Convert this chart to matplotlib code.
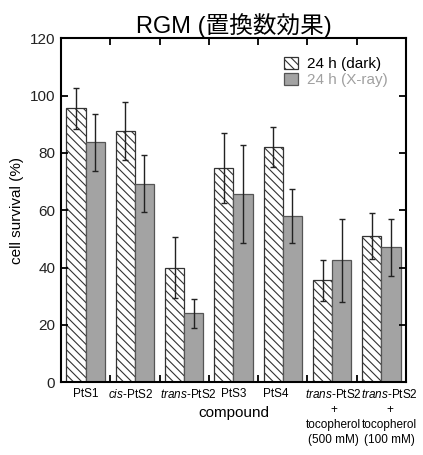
import matplotlib.pyplot as plt
import matplotlib.transforms as mtransforms
import numpy as np

plt.rcParams['font.family'] = ['Liberation Sans', 'Noto Sans CJK JP']
plt.rcParams['mathtext.fontset'] = 'custom'
plt.rcParams['mathtext.rm'] = 'Liberation Sans'
plt.rcParams['mathtext.it'] = 'Liberation Sans:italic'
plt.rcParams['hatch.linewidth'] = 0.8

# data
compounds = ['PtS1', '$\\it{cis}$-PtS2', '$\\it{trans}$-PtS2', 'PtS3', 'PtS4',
             '$\\it{trans}$-PtS2\n+\ntocopherol\n(500 mM)',
             '$\\it{trans}$-PtS2\n+\ntocopherol\n(100 mM)']
dark = [95.5, 87.6, 40.0, 74.6, 82.0, 35.5, 51.0]
dark_err = [7.0, 10.2, 10.5, 12.2, 7.0, 7.2, 8.0]
xray = [83.7, 69.3, 24.0, 65.7, 58.0, 42.5, 47.0]
xray_err = [10.0, 10.0, 5.0, 17.0, 9.5, 14.5, 10.0]

# small sideways nudges of the tick labels (points), as in the original layout
label_shift = [0, -3, 3, 0, -5, 1, 6]

x = np.arange(len(compounds))
w = 0.39

fig = plt.figure(figsize=(4.23, 4.55), dpi=100)
ax = fig.add_axes([0.144, 0.160, 0.816, 0.756])

ax.bar(x - w / 2, dark, w, color='white', edgecolor='#333333', hatch='\\\\\\\\',
       linewidth=0.9, label='24 h (dark)')
ax.bar(x + w / 2, xray, w, color='#a3a3a3', edgecolor='#555555',
       linewidth=0.9, label='24 h (X-ray)')
ax.errorbar(x - w / 2, dark, yerr=dark_err, fmt='none', ecolor='#222222',
            elinewidth=1, capsize=2.5, capthick=1)
ax.errorbar(x + w / 2, xray, yerr=xray_err, fmt='none', ecolor='#222222',
            elinewidth=1, capsize=2.5, capthick=1)

ax.set_xlim(-0.5, len(compounds) - 0.5)
ax.set_ylim(0, 120)
ax.set_yticks(range(0, 121, 20))
ax.tick_params(axis='y', labelsize=11, direction='in', length=5, width=1.3,
               right=True, pad=4, labelcolor='#222222')
ax.set_xticks(x)
ax.set_xticklabels(compounds, fontsize=8.5, linespacing=1.35)
ax.tick_params(axis='x', length=0, pad=4)
ax.set_xticks(np.arange(0.5, len(compounds) - 1, 1), minor=True)
ax.tick_params(axis='x', which='minor', direction='in', length=5, width=1.3,
               top=True)
for lab, dx in zip(ax.get_xticklabels(), label_shift):
    lab.set_transform(lab.get_transform() +
                      mtransforms.ScaledTranslation(dx / 72, 0, fig.dpi_scale_trans))
for s in ax.spines.values():
    s.set_linewidth(1.5)

ax.set_ylabel('cell survival (%)', fontsize=11, labelpad=4)
ax.set_xlabel('compound', fontsize=11)
ax.xaxis.set_label_coords(0.5, -0.070)
ax.set_title('RGM (置換数効果)', fontsize=17, pad=4)

leg = ax.legend(loc='upper right', frameon=False, fontsize=11,
                handlelength=0.9, handleheight=0.9, handletextpad=0.6,
                labelspacing=0.1, borderaxespad=0.8)
leg.get_texts()[1].set_color('#a0a0a0')

fig.savefig('out.png', dpi=100)
